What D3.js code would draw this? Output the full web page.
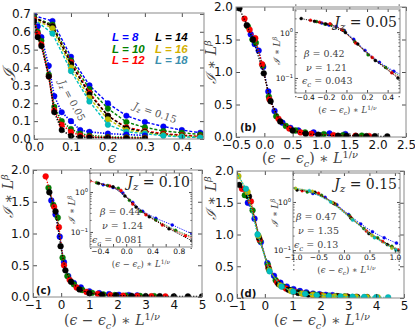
<!DOCTYPE html>
<html>
<head>
<meta charset="utf-8">
<script src="https://cdn.jsdelivr.net/npm/d3@7"></script>
<style>
  body { margin: 0; background: #fff; }
  svg { display: block; }
</style>
</head>
<body>
<script>
// system sizes and their colours
const sizes = [8, 10, 12, 14, 16, 18];
const colors = ["#0000ff", "#008000", "#ff0000", "#000000", "#bfbf00", "#00bfbf"];
const legendColors = ["#0000ff", "#008000", "#ff0000", "#000000", "#d4b000", "#3b8fae"];

// panel (a): I vs epsilon, Jz = 0.05 (L = 8..14)
const epsJz05 = [0, 0.01, 0.02, 0.04, 0.055, 0.075, 0.1, 0.125, 0.15, 0.2, 0.25, 0.3];
const aJz05L8  = [0.70, 0.63, 0.57, 0.41, 0.24, 0.15, 0.10, 0.05, 0.04, 0.03, 0.025, 0.02];
const aJz05L10 = [0.68, 0.60, 0.55, 0.36, 0.18, 0.10, 0.056, 0.03, 0.02, 0.012, 0.01, 0.008];
const aJz05L12 = [0.67, 0.59, 0.53, 0.35, 0.16, 0.08, 0.04, 0.02, 0.012, 0.008, 0.006, 0.005];
const aJz05L14 = [0.66, 0.57, 0.52, 0.35, 0.15, 0.05, 0.017, 0.01, 0.008, 0.006, 0.004, 0.003];

// panel (a): Jz = 0.15 (L = 8..18)
const epsJz15 = [0, 0.05, 0.1, 0.15, 0.2, 0.25, 0.3, 0.35, 0.4, 0.45];
const aJz15L8  = [0.69, 0.66, 0.46, 0.30, 0.20, 0.13, 0.095, 0.07, 0.05, 0.035];
const aJz15L10 = [0.68, 0.64, 0.44, 0.28, 0.17, 0.095, 0.065, 0.045, 0.035, 0.025];
const aJz15L12 = [0.68, 0.63, 0.43, 0.26, 0.13, 0.065, 0.045, 0.03, 0.022, 0.015];
const aJz15L14 = [0.68, 0.63, 0.42, 0.25, 0.13, 0.06, 0.04, 0.025, 0.018, 0.012];
const aJz15L16 = [0.67, 0.62, 0.40, 0.23, 0.11, 0.05, 0.035, 0.022, 0.015, 0.01];
const aJz15L18 = [0.67, 0.59, 0.38, 0.21, 0.08, 0.04, 0.03, 0.018, 0.012, 0.008];

// panel (b): scaled data, Jz = 0.05   [ (eps-epsc)*L^(1/nu), I*L^beta ]
const bL8  = [[-0.24,1.58],[-0.17,1.43],[-0.10,1.33],[-0.02,1.08],[0.07,0.70],[0.18,0.40],[0.32,0.22],[0.46,0.14],[0.60,0.10],[0.87,0.07],[1.15,0.055],[1.43,0.045]];
const bL10 = [[-0.29,1.70],[-0.21,1.50],[-0.15,1.45],[-0.03,1.10],[0.08,0.62],[0.21,0.32],[0.38,0.17],[0.55,0.10],[0.72,0.07],[1.05,0.045],[1.39,0.03],[1.72,0.022]];
const bL12 = [[-0.35,1.82],[-0.26,1.65],[-0.16,1.52],[-0.04,1.12],[0.09,0.58],[0.25,0.28],[0.44,0.13],[0.64,0.07],[0.83,0.05],[1.22,0.03],[1.61,0.02],[1.85,0.015]];
const bL14 = [[-0.44,1.98],[-0.31,1.72],[-0.20,1.50],[-0.01,0.98],[0.11,0.55],[0.28,0.24],[0.50,0.10],[0.73,0.05],[0.95,0.035],[1.30,0.02],[1.45,0.018],[1.62,0.015],[1.80,0.013],[1.95,0.012],[2.17,0.01]];

// panel (c): scaled data, Jz = 0.10
const cL8  = [[-0.35,1.52],[-0.20,1.30],[-0.05,0.95],[0.10,0.55],[0.25,0.33],[0.45,0.22],[0.70,0.15],[1.00,0.09],[1.35,0.06],[1.70,0.045],[2.05,0.035],[2.40,0.03],[2.70,0.025]];
const cL10 = [[-0.45,1.72],[-0.28,1.45],[-0.12,1.25],[0.05,0.62],[0.22,0.33],[0.45,0.20],[0.75,0.11],[1.10,0.065],[1.50,0.04],[1.90,0.03],[2.30,0.022],[2.80,0.017],[3.30,0.014]];
const cL12 = [[-0.55,1.90],[-0.25,1.42],[-0.08,1.10],[0.10,0.50],[0.30,0.27],[0.55,0.15],[0.90,0.08],[1.30,0.05],[1.75,0.03],[2.20,0.022],[2.70,0.016],[3.20,0.012],[3.70,0.01]];
const cL14 = [[-0.42,1.65],[-0.20,1.35],[-0.02,0.80],[0.15,0.42],[0.35,0.24],[0.65,0.12],[1.00,0.06],[1.45,0.035],[1.95,0.025],[2.50,0.018],[3.00,0.014],[3.50,0.012],[4.00,0.01],[4.50,0.009],[5.00,0.008]];

// panel (d): scaled data, Jz = 0.15
const dL8  = [[-0.61,1.50],[-0.37,1.25],[-0.14,0.88],[0.09,0.55],[0.33,0.35],[0.56,0.24],[0.79,0.18],[1.03,0.14],[1.26,0.11],[1.49,0.09],[1.73,0.07],[1.96,0.06],[2.19,0.05],[2.43,0.045]];
const dL10 = [[-0.72,1.62],[-0.44,1.38],[-0.17,0.90],[0.11,0.52],[0.39,0.28],[0.66,0.18],[0.94,0.12],[1.21,0.09],[1.49,0.07],[1.76,0.055],[2.04,0.045],[2.31,0.035],[2.59,0.03],[2.87,0.025]];
const dL12 = [[-0.82,1.72],[-0.50,1.52],[-0.19,0.92],[0.13,0.48],[0.44,0.25],[0.76,0.15],[1.07,0.10],[1.39,0.07],[1.70,0.05],[2.02,0.04],[2.33,0.03],[2.65,0.025],[2.96,0.02],[3.28,0.018]];
const dL14 = [[-0.92,1.78],[-0.57,1.60],[-0.21,0.95],[0.14,0.46],[0.49,0.22],[0.85,0.13],[1.20,0.08],[1.56,0.055],[1.91,0.04],[2.26,0.03],[2.62,0.025],[2.97,0.02],[3.32,0.016],[3.68,0.014]];
const dL16 = [[-0.95,1.92],[-0.62,1.67],[-0.23,0.98],[0.16,0.44],[0.55,0.20],[0.94,0.11],[1.33,0.07],[1.72,0.05],[2.11,0.035],[2.50,0.027],[2.89,0.02],[3.28,0.016],[3.67,0.013],[4.06,0.011]];
const dL18 = [[-1.11,2.05],[-0.68,1.72],[-0.26,1.00],[0.17,0.42],[0.60,0.18],[1.02,0.10],[1.45,0.065],[1.87,0.045],[2.30,0.032],[2.72,0.025],[3.15,0.02],[3.57,0.016],[4.00,0.013],[4.43,0.011]];

// fit parameters shown in the insets
const jzValues = ["0.05", "0.10", "0.15"];
const betaValues = ["0.42", "0.44", "0.47"];
const nuValues = ["1.21", "1.24", "1.35"];
const epscValues = ["0.043", "0.081", "0.13"];

const svg = d3.select("body").append("svg").attr("width", 415).attr("height", 330);
const tickFont = "DejaVu Sans, sans-serif";
const mathFont = "DejaVu Serif, serif";
let clipN = 0;

function panel(c) {
  const x = d3.scaleLinear().domain(c.xd).range([c.x0, c.x1]);
  const y = (c.log ? d3.scaleLog() : d3.scaleLinear()).domain(c.yd).range([c.y1, c.y0]);
  const g = svg.append("g");
  if (c.inset) {
    g.append("rect").attr("x", c.x0).attr("y", c.y0).attr("width", c.x1 - c.x0).attr("height", c.y1 - c.y0).attr("fill", "#fff");
  }
  const id = "clip" + (clipN++);
  svg.append("clipPath").attr("id", id).append("rect")
    .attr("x", c.x0).attr("y", c.y0).attr("width", c.x1 - c.x0).attr("height", c.y1 - c.y0);
  const plot = g.append("g").attr("clip-path", `url(#${id})`);
  return { x, y, g, plot, c };
}

function axes(p, o) {
  const c = p.c, tl = o.tl;
  const fs = o.fs;
  const bottom = p.g.append("g").attr("transform", `translate(0,${c.y1})`)
    .call(d3.axisBottom(p.x).tickValues(o.xt).tickFormat(o.xf).tickSize(-tl).tickPadding(o.pad));
  p.g.append("g").attr("transform", `translate(0,${c.y0})`)
    .call(d3.axisTop(p.x).tickValues(o.xt).tickFormat(() => "").tickSize(-tl));
  p.g.append("g").attr("transform", `translate(${c.x0},0)`)
    .call(d3.axisLeft(p.y).tickValues(o.yt).tickFormat(o.yf || (() => "")).tickSize(-tl).tickPadding(o.pad));
  p.g.append("g").attr("transform", `translate(${c.x1},0)`)
    .call(d3.axisRight(p.y).tickValues(o.yt).tickFormat(() => "").tickSize(-tl));
  if (o.ym) {
    p.g.append("g").attr("transform", `translate(${c.x0},0)`)
      .call(d3.axisLeft(p.y).tickValues(o.ym).tickFormat(() => "").tickSize(-tl / 2));
    p.g.append("g").attr("transform", `translate(${c.x1},0)`)
      .call(d3.axisRight(p.y).tickValues(o.ym).tickFormat(() => "").tickSize(-tl / 2));
  }
  if (o.xlabels) {
    bottom.selectAll(".tick text").text(d => o.xlabels.includes(d) ? o.xf(d) : "");
  }
  p.g.selectAll(".domain").remove();
  p.g.selectAll(".tick line").attr("stroke", "#222").attr("stroke-width", 0.8);
  p.g.selectAll(".tick text").attr("font-family", tickFont).attr("font-size", fs).attr("fill", "#111");
  p.g.append("rect").attr("x", c.x0).attr("y", c.y0).attr("width", c.x1 - c.x0).attr("height", c.y1 - c.y0)
    .attr("fill", "none").attr("stroke", "#8a8a8a").attr("stroke-width", 1);
}

function series(p, pts, color, r, dash, lw) {
  p.plot.append("path").datum(pts)
    .attr("d", d3.line().x(d => p.x(d[0])).y(d => p.y(d[1])))
    .attr("fill", "none").attr("stroke", color).attr("stroke-width", lw).attr("stroke-dasharray", dash);
  p.plot.selectAll(null).data(pts).enter().append("circle")
    .attr("cx", d => p.x(d[0])).attr("cy", d => p.y(d[1])).attr("r", r)
    .attr("fill", color).attr("stroke", d3.color(color).darker(0.6)).attr("stroke-width", 0.4);
}

function xMathLabel(x, y, fs) {
  const t = svg.append("text").attr("x", x).attr("y", y).attr("text-anchor", "middle")
    .attr("font-family", mathFont).attr("font-size", fs).attr("fill", "#444");
  t.append("tspan").text("(").append("tspan").attr("font-style", "italic").text("ϵ");
  t.append("tspan").text(" − ");
  t.append("tspan").attr("font-style", "italic").text("ϵ");
  t.append("tspan").attr("font-style", "italic").attr("font-size", fs * 0.7).attr("dy", fs * 0.25).text("c");
  t.append("tspan").attr("dy", -fs * 0.25).text(") ∗ ");
  t.append("tspan").attr("font-style", "italic").text("L");
  t.append("tspan").attr("font-size", fs * 0.7).attr("dy", -fs * 0.35).text("1/").append("tspan").attr("font-style", "italic").text("ν");
}

function yMathLabel(x, y, fs) {
  const t = svg.append("text").attr("transform", `translate(${x},${y}) rotate(-90)`).attr("text-anchor", "middle")
    .attr("font-family", mathFont).attr("font-size", fs).attr("fill", "#444");
  t.append("tspan").attr("font-style", "italic").text("ℐ");
  t.append("tspan").text(" ∗ ");
  t.append("tspan").attr("font-style", "italic").text("L");
  t.append("tspan").attr("font-style", "italic").attr("font-size", fs * 0.7).attr("dy", -fs * 0.35).text("β");
}

function logLabels(p, fs) {
  [1, 0.1].forEach((v, i) => {
    const t = p.g.append("text").attr("x", p.c.x0 - 2).attr("y", p.y(v) + fs * 0.45)
      .attr("text-anchor", "end").attr("font-family", tickFont).attr("font-size", fs).attr("fill", "#111");
    t.append("tspan").text("10");
    t.append("tspan").attr("font-size", fs * 0.7).attr("dy", -fs * 0.45).text(i === 0 ? "0" : "−1");
  });
}

function insetText(k, jx, jy, px, py) {
  const j = svg.append("text").attr("x", jx).attr("y", jy).attr("text-anchor", "end")
    .attr("font-family", mathFont).attr("font-size", 14).attr("fill", "#222");
  j.append("tspan").attr("font-style", "italic").text("J");
  j.append("tspan").attr("font-style", "italic").attr("font-size", 10).attr("dy", 3).text("z");
  j.append("tspan").attr("dy", -3).text(" = " + jzValues[k]);
  const rows = [["β", "", betaValues[k]], ["ν", "", nuValues[k]], ["ϵ", "c", epscValues[k]]];
  rows.forEach((r, i) => {
    const t = svg.append("text").attr("x", px[i]).attr("y", py[i])
      .attr("font-family", mathFont).attr("font-size", 9.5).attr("fill", "#444");
    t.append("tspan").attr("font-style", "italic").text(r[0]);
    if (r[1]) {
      t.append("tspan").attr("font-style", "italic").attr("font-size", 7).attr("dy", 2.5).text(r[1]);
      t.append("tspan").attr("dy", -2.5).text(" = " + r[2]);
    } else {
      t.append("tspan").text(" = " + r[2]);
    }
  });
}

const f1 = d3.format(".1f");
const fi = d3.format("d");
const minorLog = [0.04, 0.05, 0.06, 0.07, 0.08, 0.09, 0.2, 0.3, 0.4, 0.5, 0.6, 0.7, 0.8, 0.9, 2, 3, 4];

// ---------- panel (a)
const pa = panel({ x0: 34, x1: 204, y0: 13, y1: 139, xd: [0, 0.46], yd: [0, 0.705] });
const aJz05 = [aJz05L8, aJz05L10, aJz05L12, aJz05L14];
const aJz15 = [aJz15L8, aJz15L10, aJz15L12, aJz15L14, aJz15L16, aJz15L18];
aJz15.forEach((v, i) => series(pa, epsJz15.map((e, j) => [e, v[j]]), colors[i], 2.8, "3,1.8", 1.4));
aJz05.forEach((v, i) => series(pa, epsJz05.map((e, j) => [e, v[j]]), colors[i], 2.8, "1.4,1.4", 1.6));
axes(pa, { tl: 4, fs: 12, pad: 3, xt: [0, 0.1, 0.2, 0.3, 0.4], xf: f1, yt: d3.range(0, 0.71, 0.1), yf: f1 });
sizes.forEach((L, i) => {
  svg.append("text").attr("x", i < 3 ? 112 : 155).attr("y", 41 + (i % 3) * 11.5)
    .attr("font-family", "Liberation Sans, Arial, sans-serif").attr("font-weight", "bold").attr("font-style", "italic")
    .attr("font-size", 11.5).attr("fill", legendColors[i]).text(`L = ${L}`);
});
[["0.05", 69, 102, 62], ["0.15", 154, 116, 19]].forEach(a => {
  const t = svg.append("text").attr("transform", `translate(${a[1]},${a[2]}) rotate(${a[3]})`).attr("text-anchor", "middle")
    .attr("font-family", mathFont).attr("font-size", 10).attr("fill", "#555");
  t.append("tspan").attr("font-style", "italic").text("J");
  t.append("tspan").attr("font-style", "italic").attr("font-size", 7).attr("dy", 2).text("z");
  t.append("tspan").attr("dy", -2).text(" = " + a[0]);
});
svg.append("text").attr("x", 112).attr("y", 163).attr("text-anchor", "middle").attr("font-family", mathFont)
  .attr("font-style", "italic").attr("font-size", 15).attr("fill", "#444").text("ϵ");
svg.append("text").attr("transform", "translate(15,74) rotate(-90)").attr("text-anchor", "middle").attr("font-family", mathFont)
  .attr("font-style", "italic").attr("font-size", 17).attr("fill", "#444").text("ℐ");

// ---------- panels (b), (c), (d)
const mainCfg = [
  { x0: 236, x1: 406, y0: 7, y1: 137, xd: [-0.5, 2.5], yd: [0, 2], xt: d3.range(-0.5, 2.51, 0.5), xf: f1, data: [bL8, bL10, bL12, bL14] },
  { x0: 33, x1: 202, y0: 170, y1: 297, xd: [-1, 5], yd: [0, 2], xt: d3.range(-1, 5.1, 1), xf: fi, data: [cL8, cL10, cL12, cL14] },
  { x0: 237, x1: 404, y0: 171, y1: 298, xd: [-1, 5], yd: [0, 2], xt: d3.range(-1, 5.1, 1), xf: fi, data: [dL8, dL10, dL12, dL14, dL16, dL18] }
];
const insetCfg = [
  { x0: 295, x1: 400, y0: 9, y1: 93, xd: [-0.5, 0.52], yd: [0.047, 3.2], log: true, inset: true, xt: [-0.4, -0.2, 0, 0.2, 0.4], xl: [-0.4, -0.2, 0, 0.2, 0.4] },
  { x0: 90, x1: 192, y0: 173, y1: 247, xd: [-0.55, 1.0], yd: [0.042, 3.0], log: true, inset: true, xt: [-0.4, -0.2, 0, 0.2, 0.4, 0.6, 0.8], xl: [-0.4, 0, 0.4, 0.8] },
  { x0: 293, x1: 400, y0: 173, y1: 253, xd: [-1.0, 1.1], yd: [0.087, 4.0], log: true, inset: true, xt: [-1, -0.5, 0, 0.5, 1], xl: [-1, -0.5, 0, 0.5, 1] }
];
const panelTags = ["(b)", "(c)", "(d)"];
const tagPos = [[240, 131], [36, 294], [240, 297]];
const textPos = [
  { jx: 397, jy: 27, px: [304, 306, 302], py: [57, 71, 84] },
  { jx: 190, jy: 187, px: [100, 102, 92], py: [215, 229, 243] },
  { jx: 397, jy: 189, px: [296, 298, 294], py: [220, 234, 248] }
];
const yLabelPos = [[216, 62], [13, 196], [216, 198]];
const xLabelPos = [[310, 163], [112, 325], [322, 325]];

mainCfg.forEach((c, k) => {
  const p = panel(c);
  c.data.forEach((pts, i) => series(p, pts, colors[i], 2.9, "1.4,1.4", 1.2));
  axes(p, { tl: 4, fs: 12, pad: 3, xt: c.xt, xf: c.xf, yt: d3.range(0, 2.01, 0.5), yf: f1 });
  svg.append("text").attr("x", tagPos[k][0]).attr("y", tagPos[k][1]).attr("font-family", tickFont)
    .attr("font-weight", "bold").attr("font-size", 10).attr("fill", "#111").text(panelTags[k]);
  yMathLabel(yLabelPos[k][0], yLabelPos[k][1], 14);
  xMathLabel(xLabelPos[k][0], xLabelPos[k][1], 14);

  const ic = insetCfg[k];
  const q = panel(ic);
  c.data.forEach((pts, i) => series(q, pts, colors[i], 1.5, "1.2,1.2", 0.9));
  axes(q, { tl: 3, fs: 7.5, pad: 2, xt: ic.xt, xf: f1, xlabels: ic.xl, yt: [0.1, 1], ym: minorLog });
  logLabels(q, 7.5);
  yMathLabel(ic.x0 - 15, (ic.y0 + ic.y1) / 2, 9);
  xMathLabel((ic.x0 + ic.x1) / 2, ic.y1 + 20, 8.5);
  const tp = textPos[k];
  insetText(k, tp.jx, tp.jy, tp.px, tp.py);
});
</script>
</body>
</html>
